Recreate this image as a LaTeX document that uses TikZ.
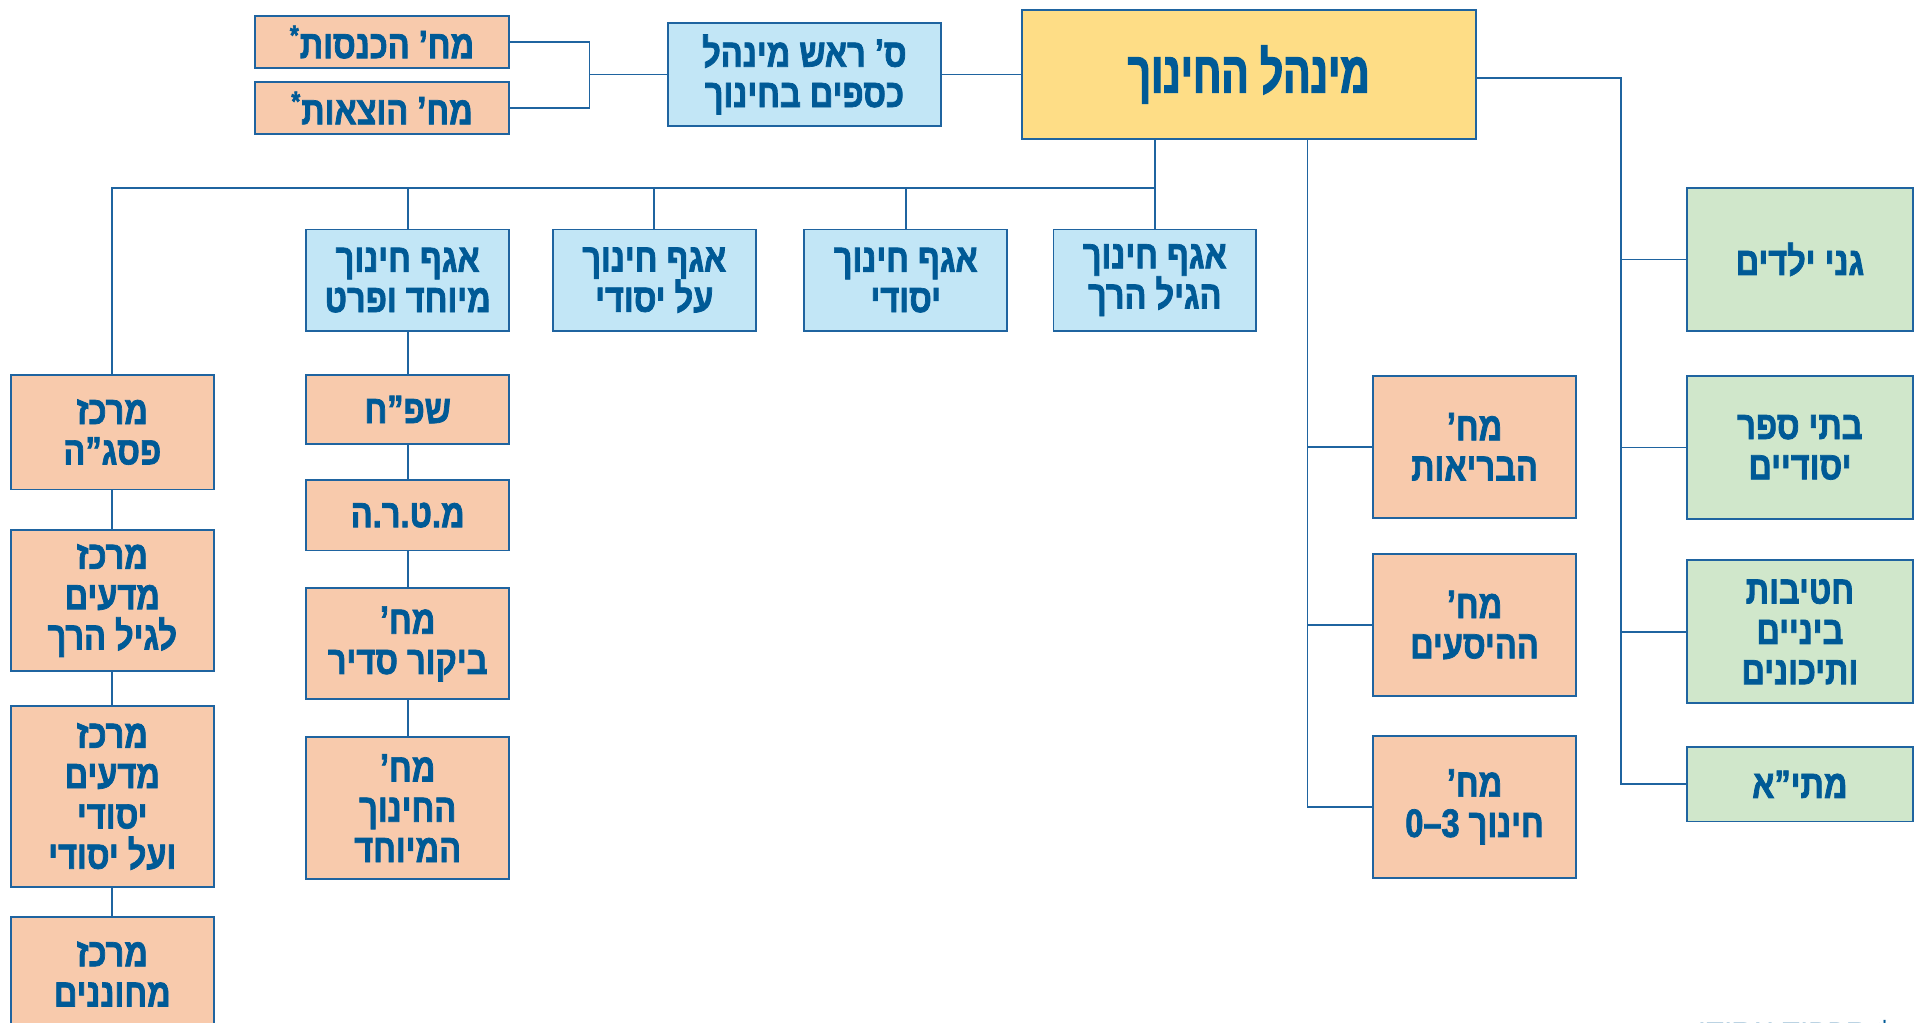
\documentclass[tikz,border=0pt]{standalone}
\usepackage{fontspec}
\setmainfont{Liberation Sans}
\newfontfamily\hebfont[Script=Hebrew,FakeStretch=0.82,FakeBold=1.8]{Liberation Sans Bold}
\newfontfamily\hebtitle[Script=Hebrew,FakeStretch=0.7,FakeBold=2.2]{Liberation Sans Bold}
\newfontfamily\latfont[FakeStretch=0.82,FakeBold=1.8]{Liberation Sans Bold}
\newfontfamily\hebnote[Script=Hebrew]{Liberation Sans}
\TeXXeTstate=1

\definecolor{txtblue}{HTML}{005A96}
\definecolor{lineblue}{HTML}{1F64A0}
\definecolor{boxyellow}{HTML}{FEDD86}
\definecolor{boxblue}{HTML}{C2E6F6}
\definecolor{boxorange}{HTML}{F8CAAC}
\definecolor{boxgreen}{HTML}{D0E7CB}

\newcommand{\heb}[1]{\beginR #1\endR}

\tikzset{
	unit/.style={draw=lineblue, line width=0.9pt, text=txtblue, align=center,
		inner sep=0pt, minimum width=3.32cm,
		font=\hebfont\fontsize{18.5}{18.8}\selectfont},
	agaf/.style={unit, fill=boxblue, minimum height=1.66cm},
	dept/.style={unit, fill=boxorange},
	school/.style={unit, fill=boxgreen, minimum width=3.7cm},
	conn/.style={draw=lineblue, line width=0.75pt},
}

\begin{document}
\begin{tikzpicture}[x=0.02cm, y=-0.02cm]

	\useasboundingbox (0,0) rectangle (1568,838);
	\clip (0,0) rectangle (1568,838);

	% top row
	\node[unit, fill=boxyellow, minimum width=7.44cm, minimum height=2.12cm,
		font=\hebtitle\fontsize{27}{30}\selectfont] (main) at (1023,61) {\heb{מינהל החינוך}};
	\node[unit, fill=boxblue, minimum width=4.48cm, minimum height=1.68cm] (fin) at (659,61)
		{\heb{ס’ ראש מינהל}\\\heb{כספים בחינוך}};
	\node[dept, minimum width=4.16cm, minimum height=0.86cm] (income) at (313,34.5)
		{\heb{מח’ הכנסות\textsuperscript{*}}};
	\node[dept, minimum width=4.16cm, minimum height=0.86cm] (expense) at (313,88.5)
		{\heb{מח’ הוצאות\textsuperscript{*}}};

	% agafim
	\node[agaf] (gilharach) at (946,229.5) {\heb{אגף חינוך}\\\heb{הגיל הרך}};
	\node[agaf] (yesodi) at (742,229.5) {\heb{אגף חינוך}\\\heb{יסודי}};
	\node[agaf] (alyesodi) at (536,229.5) {\heb{אגף חינוך}\\\heb{על יסודי}};
	\node[agaf] (meyuchad) at (334,229.5) {\heb{אגף חינוך}\\\heb{מיוחד ופרט}};

	% left column
	\node[dept, minimum height=1.88cm] (psagah) at (92,354) {\heb{מרכז}\\\heb{פסג”ה}};
	\node[dept, minimum height=2.32cm] (madaharach) at (92,492)
		{\heb{מרכז}\\\heb{מדעים}\\\heb{לגיל הרך}};
	\node[dept, minimum height=2.98cm] (madayesodi) at (92,652.5)
		{\heb{מרכז}\\\heb{מדעים}\\\heb{יסודי}\\\heb{ועל יסודי}};
	\node[dept, minimum height=1.88cm] (mechonanim) at (92,798) {\heb{מרכז}\\\heb{מחוננים}};

	% under agaf chinuch meyuchad
	\node[dept, minimum height=1.14cm] (shefach) at (334,335.5) {\heb{שפ”ח}};
	\node[dept, minimum height=1.16cm] (matara) at (334,422) {\heb{מ.ט.ר.ה}};
	\node[dept, minimum height=1.82cm] (bikur) at (334,527.5) {\heb{מח’}\\\heb{ביקור סדיר}};
	\node[dept, minimum height=2.32cm] (chinuchmeyuchad) at (334,662)
		{\heb{מח’}\\\heb{החינוך}\\\heb{המיוחד}};

	% departments
	\node[dept, minimum height=2.32cm] (briut) at (1208,366) {\heb{מח’}\\\heb{הבריאות}};
	\node[dept, minimum height=2.32cm] (hasaot) at (1208,512) {\heb{מח’}\\\heb{ההיסעים}};
	\node[dept, minimum height=2.32cm] (zerothree) at (1208,661)
		{\heb{מח’}\\\heb{חינוך \beginL{\latfont 0–3}\endL}};

	% schools
	\node[school, minimum height=2.34cm] (gan) at (1474.5,212.5) {\heb{גני ילדים}};
	\node[school, minimum height=2.34cm] (bitsefer) at (1474.5,366.5) {\heb{בתי ספר}\\\heb{יסודיים}};
	\node[school, minimum height=2.34cm] (tichon) at (1474.5,517.5)
		{\heb{חטיבות}\\\heb{ביניים}\\\heb{ותיכונים}};
	\node[school, minimum height=1.22cm] (matia) at (1474.5,642.5) {\heb{מתי”א}};

	\node[anchor=base, text=txtblue, font=\hebnote\fontsize{15}{18}\selectfont] (note) at (1470,854)
		{\heb{* תפקיד עתידי}};

	% connectors
	\coordinate (jn) at (483,61);
	\coordinate (rbus) at (1328,64);
	\coordinate (bus) at (946,154);
	\coordinate (mbus) at (1071,114);

	\draw[conn] (income.east) -| (jn) |- (expense.east);
	\draw[conn] (jn) -- (fin.west);
	\draw[conn] (fin.east) -- (main.west);

	\draw[conn] (main.east |- rbus) -- (rbus) |- (matia.west);
	\foreach \n in {gan,bitsefer,tichon}
		\draw[conn] (rbus |- \n.west) -- (\n.west);

	\draw[conn] (main.south -| gilharach) -- (gilharach.north);
	\draw[conn] (bus) -| (psagah.north);
	\foreach \n in {yesodi,alyesodi,meyuchad}
		\draw[conn] (bus -| \n.north) -- (\n.north);

	\draw[conn] (main.south -| mbus) |- (zerothree.west);
	\foreach \n in {briut,hasaot}
		\draw[conn] (mbus |- \n.west) -- (\n.west);

	\draw[conn] (psagah) -- (madaharach) -- (madayesodi) -- (mechonanim);
	\draw[conn] (meyuchad) -- (shefach) -- (matara) -- (bikur) -- (chinuchmeyuchad);

\end{tikzpicture}
\end{document}
